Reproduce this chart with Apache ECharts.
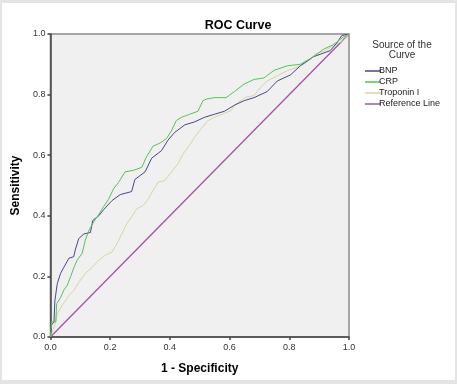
<!DOCTYPE html>
<html>
<head>
<meta charset="utf-8">
<script src="https://cdn.jsdelivr.net/npm/echarts@6/dist/echarts.min.js"></script>
<style>
html,body{margin:0;padding:0;}
body{width:457px;height:384px;background:#e4e4e4;position:relative;overflow:hidden;}
#c{position:absolute;left:2px;top:3px;width:453px;height:377px;background:#ffffff;}
</style>
</head>
<body>
<div id="c"></div>
<script>
var xTicks = [0, 0.2, 0.4, 0.6, 0.8, 1.0];
var yTicks = [0, 0.2, 0.4, 0.6, 0.8, 1.0];
var seriesNames = ['BNP', 'CRP', 'Troponin I', 'Reference Line'];

var bnpPoints = [[0,0],[0.004,0.04],[0.012,0.05],[0.015,0.12],[0.023,0.176],[0.034,0.21],[0.045,0.23],[0.062,0.26],[0.078,0.265],[0.084,0.29],[0.095,0.325],[0.112,0.34],[0.134,0.345],[0.142,0.385],[0.162,0.40],[0.178,0.42],[0.206,0.45],[0.234,0.47],[0.272,0.48],[0.283,0.52],[0.317,0.545],[0.339,0.59],[0.372,0.615],[0.394,0.65],[0.416,0.675],[0.45,0.70],[0.483,0.71],[0.516,0.725],[0.549,0.735],[0.583,0.745],[0.616,0.765],[0.649,0.78],[0.682,0.79],[0.726,0.81],[0.76,0.845],[0.804,0.865],[0.837,0.895],[0.881,0.925],[0.937,0.945],[0.959,0.97],[0.976,0.995],[1,1]];

var crpPoints = [[0,0],[0.004,0.05],[0.018,0.05],[0.021,0.11],[0.034,0.13],[0.045,0.155],[0.056,0.17],[0.068,0.20],[0.079,0.23],[0.09,0.255],[0.106,0.275],[0.117,0.32],[0.128,0.35],[0.145,0.38],[0.162,0.405],[0.178,0.43],[0.195,0.455],[0.212,0.49],[0.228,0.51],[0.25,0.545],[0.278,0.55],[0.306,0.56],[0.322,0.595],[0.344,0.63],[0.367,0.64],[0.389,0.655],[0.405,0.68],[0.422,0.715],[0.439,0.725],[0.466,0.735],[0.494,0.745],[0.511,0.78],[0.522,0.785],[0.549,0.79],[0.588,0.79],[0.616,0.81],[0.649,0.835],[0.682,0.85],[0.715,0.855],[0.749,0.88],[0.793,0.895],[0.837,0.90],[0.881,0.925],[0.915,0.95],[0.948,0.965],[0.981,0.99],[1,1]];

var tropPoints = [[0,0],[0.007,0.02],[0.018,0.05],[0.023,0.077],[0.04,0.105],[0.062,0.137],[0.079,0.154],[0.095,0.18],[0.117,0.21],[0.14,0.23],[0.162,0.253],[0.184,0.27],[0.206,0.28],[0.223,0.308],[0.239,0.34],[0.256,0.374],[0.272,0.396],[0.289,0.423],[0.311,0.434],[0.328,0.456],[0.344,0.484],[0.361,0.511],[0.383,0.516],[0.4,0.538],[0.427,0.571],[0.444,0.604],[0.461,0.626],[0.483,0.659],[0.505,0.687],[0.527,0.714],[0.549,0.725],[0.577,0.736],[0.605,0.747],[0.621,0.769],[0.654,0.791],[0.682,0.797],[0.704,0.824],[0.726,0.845],[0.76,0.862],[0.793,0.879],[0.826,0.89],[0.859,0.907],[0.887,0.934],[0.92,0.945],[0.948,0.962],[0.981,0.978],[1,1]];

var refPoints = [[0,0],[1,1]];

var colors = ['#46468f', '#55c455', '#d8d3a0', '#a552a8'];
var font = 'Liberation Sans, Arial, sans-serif';

var chart = echarts.init(document.getElementById('c'), null, {renderer: 'canvas'});
function mk(name, data, color, z, width) {
  return {
    name: name, type: 'line', data: data, z: z,
    symbol: 'none', showSymbol: false, smooth: false,
    lineStyle: {color: color, width: width}, itemStyle: {color: color},
    emphasis: {disabled: true},
    animation: false
  };
}
chart.setOption({
  animation: false,
  color: colors,
  tooltip: {show: false},
  title: [
    {text: 'ROC Curve', left: 231, top: 11, textAlign: 'center',
     textStyle: {fontFamily: font, fontSize: 12.5, fontWeight: 'bold', color: '#000'}},
    {text: 'Source of the\nCurve', left: 395, top: 32, textAlign: 'center',
     textStyle: {fontFamily: font, fontSize: 10, fontWeight: 'normal', color: '#333', lineHeight: 10}}
  ],
  legend: {
    orient: 'vertical', left: 358, top: 58,
    data: seriesNames,
    icon: 'rect', itemWidth: 16, itemHeight: 1.5, itemGap: 1,
    textStyle: {fontFamily: font, fontSize: 9, color: '#222', padding: [0,0,0,-7], lineHeight: 10},
    selectedMode: false
  },
  grid: {left: 45, right: 106, top: 31, bottom: 43, show: true,
         backgroundColor: '#f0f0f0', borderColor: '#8a8a8a', borderWidth: 1.5, containLabel: false},
  xAxis: {
    type: 'value', min: 0, max: 1, interval: 0.2,
    name: '1 - Specificity', nameLocation: 'middle', nameGap: 26,
    nameTextStyle: {fontFamily: font, fontSize: 12, fontWeight: 'bold', color: '#000'},
    axisLine: {show: true, lineStyle: {color: '#444', width: 1.5}},
    axisTick: {show: true, length: 3, lineStyle: {color: '#444', width: 1.5}},
    axisLabel: {fontFamily: font, fontSize: 9, color: '#333', margin: 6,
      formatter: function(v){ return v.toFixed(1); }},
    splitLine: {show: false}
  },
  yAxis: {
    type: 'value', min: 0, max: 1, interval: 0.2,
    name: 'Sensitivity', nameLocation: 'middle', nameGap: 23,
    nameTextStyle: {fontFamily: font, fontSize: 12, fontWeight: 'bold', color: '#000'},
    axisLine: {show: true, lineStyle: {color: '#444', width: 1.5}},
    axisTick: {show: true, length: 3, lineStyle: {color: '#444', width: 1.5}},
    axisLabel: {fontFamily: font, fontSize: 9, color: '#333', margin: 5,
      formatter: function(v){ return v.toFixed(1); }},
    splitLine: {show: false}
  },
  series: [
    mk(seriesNames[3], refPoints, colors[3], 2, 1.3),
    mk(seriesNames[2], tropPoints, colors[2], 3, 1),
    mk(seriesNames[0], bnpPoints, colors[0], 4, 1),
    mk(seriesNames[1], crpPoints, colors[1], 5, 1)
  ]
});
</script>
</body>
</html>
